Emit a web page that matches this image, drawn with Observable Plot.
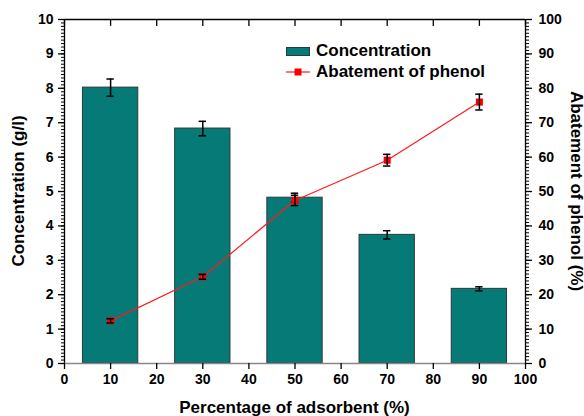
<!DOCTYPE html>
<html><head><meta charset="utf-8">
<script src="https://cdn.jsdelivr.net/npm/d3@7"></script>
<script src="https://cdn.jsdelivr.net/npm/@observablehq/plot@0.6"></script>
<style>
body{margin:0;background:#fff;}
#wrap{position:relative;width:584px;height:416px;font-family:"Liberation Sans",Arial,sans-serif;}
.leg{position:absolute;left:286px;font-weight:bold;font-size:17px;color:#000;display:flex;align-items:center;white-space:nowrap;}
.leg svg{margin-right:6px;}
</style>
</head><body><div id="wrap"></div>
<script>
const adsorbent = [10, 30, 50, 70, 90];
const concentration = [8.02, 6.83, 4.82, 3.74, 2.17];
const concErr = [0.25, 0.21, 0.13, 0.12, 0.06];
const abatement = [12.4, 25.2, 47.4, 59.1, 76.0];
const abatErr = [0.6, 0.7, 1.5, 1.7, 2.3];
const xTicks = [0, 10, 20, 30, 40, 50, 60, 70, 80, 90, 100];
const yTicks = [0, 1, 2, 3, 4, 5, 6, 7, 8, 9, 10];
const y2Ticks = [0, 10, 20, 30, 40, 50, 60, 70, 80, 90, 100];

const rows = adsorbent.map((x, i) => ({
  x, c: concentration[i], ce: concErr[i], a: abatement[i] / 10, ae: abatErr[i] / 10
}));
const minor = d3.range(0, 100.5, 1).map(v => v / 10);
const teal = "#067a76";
const bw = 6, cap = 0.8;

const chart = Plot.plot({
  width: 584, height: 416,
  marginLeft: 64, marginRight: 59, marginTop: 19, marginBottom: 53,
  style: {fontFamily: '"Liberation Sans", Arial, sans-serif', fontSize: "14px", fontWeight: "bold", color: "#000", background: "transparent"},
  x: {domain: [0, 100]},
  y: {domain: [0, 10]},
  marks: [
    Plot.rect(rows, {x1: d => d.x - bw, x2: d => d.x + bw, y1: 0, y2: "c", fill: teal, stroke: "#2a3a38", strokeWidth: 1}),
    Plot.ruleX(rows, {x: "x", y1: d => d.c - d.ce, y2: d => d.c + d.ce, stroke: "#000", strokeWidth: 1.5}),
    Plot.ruleY(rows, {y: d => d.c - d.ce, x1: d => d.x - cap, x2: d => d.x + cap, stroke: "#000", strokeWidth: 1.5}),
    Plot.ruleY(rows, {y: d => d.c + d.ce, x1: d => d.x - cap, x2: d => d.x + cap, stroke: "#000", strokeWidth: 1.5}),
    Plot.line(rows, {x: "x", y: "a", stroke: "#ff1a1a", strokeWidth: 1.2}),
    Plot.dot(rows, {x: "x", y: "a", symbol: "square", r: 4, fill: "#ff0000", stroke: "none"}),
    Plot.ruleX(rows, {x: "x", y1: d => d.a - d.ae, y2: d => d.a + d.ae, stroke: "#000", strokeWidth: 1.5}),
    Plot.ruleY(rows, {y: d => d.a - d.ae, x1: d => d.x - cap, x2: d => d.x + cap, stroke: "#000", strokeWidth: 1.5}),
    Plot.ruleY(rows, {y: d => d.a + d.ae, x1: d => d.x - cap, x2: d => d.x + cap, stroke: "#000", strokeWidth: 1.5}),
    // frame
    Plot.ruleY([10], {stroke: "#000", strokeWidth: 1.3}),
    Plot.ruleX([0], {stroke: "#000", strokeWidth: 1.3}),
    Plot.ruleX([100], {stroke: "#000", strokeWidth: 1.3}),
    Plot.ruleY([0], {stroke: "#888", strokeWidth: 1.5}),
    // top inward ticks
    Plot.ruleX(xTicks, {x: d => d, y1: 10, y2: 9.8, stroke: "#000", strokeWidth: 1.3}),
    // axes
    Plot.axisX({ticks: xTicks, tickSize: 6, tickPadding: 5, label: null, strokeWidth: 1.3}),
    Plot.axisY({ticks: minor, tickSize: 3, tickFormat: () => "", label: null}),
    Plot.axisY({ticks: yTicks, tickSize: 6, tickPadding: 5, label: null, strokeWidth: 1.3}),
    Plot.axisY({anchor: "right", ticks: minor, tickSize: 3, tickFormat: () => "", label: null}),
    Plot.axisY({anchor: "right", ticks: yTicks, tickSize: 6, tickPadding: 7, label: null, strokeWidth: 1.3, tickFormat: (d, i) => y2Ticks[i]})
  ]
});

const svg = d3.select(chart);
const tf = {"font-family": '"Liberation Sans", Arial, sans-serif', "font-size": "17px", "font-weight": "bold"};
function title(txt, x, y, rot) {
  const t = svg.append("text").attr("text-anchor", "middle").attr("dominant-baseline", "central")
    .attr("transform", `translate(${x},${y}) rotate(${rot})`).text(txt).attr("fill", "#000");
  for (const k in tf) t.attr(k, tf[k]);
}
title("Percentage of adsorbent (%)", 294.5, 407, 0);
title("Concentration (g/l)", 18, 191, -90);
title("Abatement of phenol (%)", 576, 191, 90);

const wrap = document.getElementById("wrap");
wrap.appendChild(chart);
const l1 = document.createElement("div");
l1.className = "leg"; l1.style.top = "41px";
l1.innerHTML = `<svg width="24" height="12"><rect x="0.5" y="2.5" width="23" height="8" fill="${teal}" stroke="#2a3a38"/></svg>Concentration`;
const l2 = document.createElement("div");
l2.className = "leg"; l2.style.top = "62px";
l2.innerHTML = `<svg width="24" height="12"><line x1="0" x2="24" y1="6" y2="6" stroke="#ff1a1a" stroke-width="1.2"/><rect x="8.5" y="2.5" width="7" height="7" fill="#ff0000"/></svg>Abatement of phenol`;
wrap.appendChild(l1); wrap.appendChild(l2);
</script>
</body></html>
